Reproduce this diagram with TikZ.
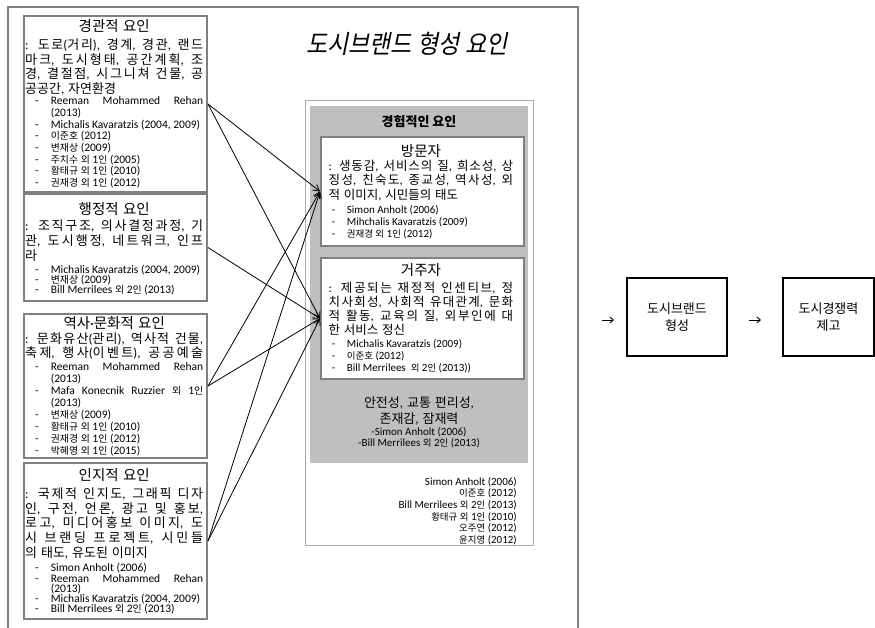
\documentclass[tikz,border=0pt]{standalone}
\usepackage{fontspec}
\setmainfont{Carlito}
\newfontfamily\krreg{Noto Sans CJK KR}
\newfontfamily\krsmall{Noto Sans CJK KR}[Scale=0.86]
\newfontfamily\krslant{Noto Sans CJK KR}[FakeSlant=0.2,FakeStretch=0.9]
\usetikzlibrary{arrows.meta}
\def\krfont{\krreg}
\XeTeXinterchartokenstate=1
\newXeTeXintercharclass\KRclass
\newcount\kcnt
\kcnt="AC00
\loop
  \XeTeXcharclass\kcnt=\KRclass
  \ifnum\kcnt<"D7A3 \advance\kcnt by 1
\repeat
\XeTeXinterchartoks 0 \KRclass = {\begingroup\krfont}
\XeTeXinterchartoks 4095 \KRclass = {\begingroup\krfont}
\XeTeXinterchartoks \KRclass 0 = {\endgroup}
\XeTeXinterchartoks \KRclass 4095 = {\endgroup}
\XeTeXinterchartoks \KRclass \KRclass = {\hskip 0pt plus 1.2pt\relax}
\lineskiplimit=-20pt
\definecolor{frameg}{HTML}{808080}
\definecolor{fillg}{HTML}{BFBFBF}
\definecolor{lightb}{HTML}{ABABAB}
\newdimen\rfa \newdimen\rfb
\newcommand\setrf[2]{\rfa=#1\relax\rfb=#2\relax}
\newcommand\J[1]{\makebox[\hsize][s]{#1}}
\newcommand\ttl[1]{{\fontsize{14.5}{14.5}\selectfont\spaceskip=0.3em\relax\makebox[\hsize][c]{\raisebox{0pt}[12pt][3pt]{#1}}\par}}
\newcommand\bodyf[2]{\fontsize{#1}{#2}\selectfont\spaceskip=0.3em plus 0.12em minus 0.05em\relax}
\newcommand\reff[2]{\fontsize{#1}{#2}\selectfont\let\krfont\krsmall}
\newcommand\Rf[1]{\hspace*{\rfa}\makebox[\rfb][l]{-}#1}
\newcommand\Rj[1]{\Rf{\makebox[\dimexpr\hsize-\rfa-\rfb\relax][s]{#1}}}
\newcommand\Rc[1]{\hspace*{\dimexpr\rfa+\rfb\relax}#1}
\begin{document}
\begin{tikzpicture}[x=1pt,y=-1pt,
  lbox/.style={draw=frameg, line width=2pt, rectangle, inner sep=0, anchor=north west, fill=white},
  pbox/.style={draw=frameg, line width=2pt, rectangle, inner sep=0, anchor=north west, fill=white},
  rbox/.style={draw=black, line width=1.6pt, rectangle, inner sep=0, align=center, font=\fontsize{13}{16.5}\selectfont},
  txt/.style={inner sep=0, anchor=north west, align=flush left, text width=#1},
  conn/.style={line width=0.8pt, -{Straight Barb[length=6pt,width=7pt]}},
  sarr/.style={line width=0.9pt, -{Straight Barb[length=3.5pt,width=6pt]}},
  frame/.style={draw=frameg, line width=2pt}]
\useasboundingbox (0,0) rectangle (875,627);
% outer frame
\coordinate (fa) at (8,628);
\coordinate (fb) at (8,7);
\coordinate (fc) at (578,7);
\coordinate (fd) at (578,628);
\draw[frame] (fa) -- (fb) -- (fc) -- (fd);
% title
\node[inner sep=0, font=\fontsize{25.5}{25.5}\selectfont] (title) at (407,44) {\let\krfont\krslant 도시브랜드 형성 요인};
% left boxes
\node[lbox, minimum width=183, minimum height=176] (b1) at (23,15) {};
\node[lbox, minimum width=183, minimum height=107] (b2) at (23,193) {};
\node[lbox, minimum width=183, minimum height=144] (b3) at (23,313) {};
\node[lbox, minimum width=183, minimum height=156] (b4) at (23,462) {};
\node[txt=178] (t1) at (25,19.6) {\setrf{10pt}{15.7pt}%
\ttl{경관적 요인}\vspace{3pt}%
{\bodyf{13}{14.7}\J{: 도로(거리), 경계, 경관, 랜드}\\\J{마크, 도시형태, 공간계획, 조}\\\J{경, 결절점, 시그니쳐 건물, 공}\\공공간, 자연환경\par}\vspace{-0.6pt}%
{\reff{11.5}{11.7}\Rj{Reeman Mohammed Rehan}\\\Rc{(2013)}\\\Rf{Michalis Kavaratzis (2004, 2009)}\\\Rf{이준호 (2012)}\\\Rf{변재상 (2009)}\\\Rf{주치수 외 1인 (2005)}\\\Rf{황태규 외 1인 (2010)}\\\Rf{권재경 외 1인 (2012)}\par}};
\node[txt=178] (t2) at (25,202.6) {\setrf{10pt}{15.7pt}%
\ttl{행정적 요인}\vspace{0.2pt}%
{\bodyf{13}{15}\J{: 조직구조, 의사결정과정, 기}\\\J{관, 도시행정, 네트워크, 인프}\\라\par}\vspace{2.7pt}%
{\reff{11.5}{10.3}\Rf{Michalis Kavaratzis (2004, 2009)}\\\Rf{변재상 (2009)}\\\Rf{Bill Merrilees 외 2인 (2013)}\par}};
\node[txt=178] (t3) at (25,316.6) {\setrf{10pt}{15.7pt}%
\ttl{역사·문화적 요인}\vspace{0.1pt}%
{\bodyf{13}{14.4}\J{: 문화유산(관리), 역사적 건물,}\\\J{축제, 행사(이벤트), 공공예술}\par}\vspace{0.7pt}%
{\reff{11.5}{12}\Rj{Reeman Mohammed Rehan}\\\Rc{(2013)}\\\Rj{Mafa Konecnik Ruzzier 외 1인}\\\Rc{(2013)}\\\Rf{변재상 (2009)}\\\Rf{황태규 외 1인 (2010)}\\\Rf{권재경 외 1인 (2012)}\\\Rf{박혜영 외 1인 (2015)}\par}};
\node[txt=178] (t4) at (25,468.7) {\setrf{10pt}{15.7pt}%
\ttl{인지적 요인}\vspace{2.5pt}%
{\bodyf{13}{14.85}\J{: 국제적 인지도, 그래픽 디자}\\\J{인, 구전, 언론, 광고 및 홍보,}\\\J{로고, 미디어홍보 이미지, 도}\\\J{시 브랜딩 프로젝트, 시민들}\\의 태도, 유도된 이미지\par}\vspace{4pt}%
{\reff{11.5}{10.25}\Rf{Simon Anholt (2006)}\\\Rj{Reeman Mohammed Rehan}\\\Rc{(2013)}\\\Rf{Michalis Kavaratzis (2004, 2009)}\\\Rf{Bill Merrilees 외 2인 (2013)}\par}};
% middle
\node[draw=lightb, line width=1pt, rectangle, inner sep=0, anchor=north west, minimum width=228, minimum height=445] (mid) at (305,100) {};
\node[fill=fillg, rectangle, inner sep=0, anchor=north west, minimum width=218, minimum height=357] (gray) at (310,106) {};
\node[inner sep=0, font=\fontsize{13}{13}\selectfont\bfseries] (exp) at (419,122) {경험적인 요인};
\node[pbox, minimum width=203, minimum height=109] (vis) at (320,136) {};
\node[pbox, minimum width=203, minimum height=121] (res) at (320,257) {};
\node[txt=184.5] (tv) at (328.5,143.8) {\setrf{3.2pt}{15pt}%
\ttl{방문자}\vspace{0.65pt}%
{\bodyf{12.5}{14.15}\J{: 생동감, 서비스의 질, 희소성, 상}\\\J{징성, 친숙도, 종교성, 역사성, 외}\\적 이미지, 시민들의 태도\par}\vspace{3.1pt}%
{\reff{11}{11.7}\Rf{Simon Anholt (2006)}\\\Rf{Mihchalis Kavaratzis (2009)}\\\Rf{권재경 외 1인 (2012)}\par}};
\node[txt=184.5] (tr) at (328.5,263.4) {\setrf{3.2pt}{15pt}%
\ttl{거주자}\vspace{2.8pt}%
{\bodyf{12.5}{14.1}\J{: 제공되는 재정적 인센티브, 정}\\\J{치사회성, 사회적 유대관계, 문화}\\\J{적 활동, 교육의 질, 외부인에 대}\\한 서비스 정신\par}\vspace{0.95pt}%
{\reff{11}{11.85}\Rf{Michalis Kavaratzis (2009)}\\\Rf{이준호 (2012)}\\\Rf{Bill Merrilees~ 외 2인 (2013))}\par}};
\node[txt=212, anchor=north, align=flush center] (gt) at (419,397.5) {%
{\bodyf{13}{15.6}\raisebox{0pt}[10pt][3pt]{안전성, 교통 편리성,}\\존재감, 잠재력\par}\vspace{0.4pt}%
{\reff{11}{11.5}-Simon Anholt (2006)\\-Bill Merrilees 외 2인 (2013)\par}};
\node[txt=210, anchor=north east, align=flush right] (lst) at (517,476) {%
\reff{11}{11.6}\raisebox{0pt}[9pt][2pt]{Simon Anholt (2006)}\\이준호 (2012)\\Bill Merrilees 외 2인 (2013)\\황태규 외 1인 (2010)\\오주연 (2012)\\윤지영 (2012)\par};
% connectors
\draw[conn] (b1.east) -- (vis.west);
\draw[conn] (b1.east) -- (res.west);
\draw[conn] (b2.east) -- (res.west);
\draw[conn] (b3.east) -- (vis.west);
\draw[conn] (b3.east) -- (res.west);
\draw[conn] (b4.east) -- (vis.west);
\draw[conn] (b4.east) -- (res.west);
% right side
\node[rbox, minimum width=100, minimum height=78] (rb1) at (677,317) {도시브랜드\\형성};
\node[rbox, minimum width=91, minimum height=78] (rb2) at (828.5,317) {도시경쟁력\\제고};
\coordinate (s1) at (602,320);
\coordinate (e1) at (614,320);
\coordinate (s2) at (749,320);
\coordinate (e2) at (761,320);
\draw[sarr] (s1) -- (e1);
\draw[sarr] (s2) -- (e2);
\end{tikzpicture}
\end{document}
